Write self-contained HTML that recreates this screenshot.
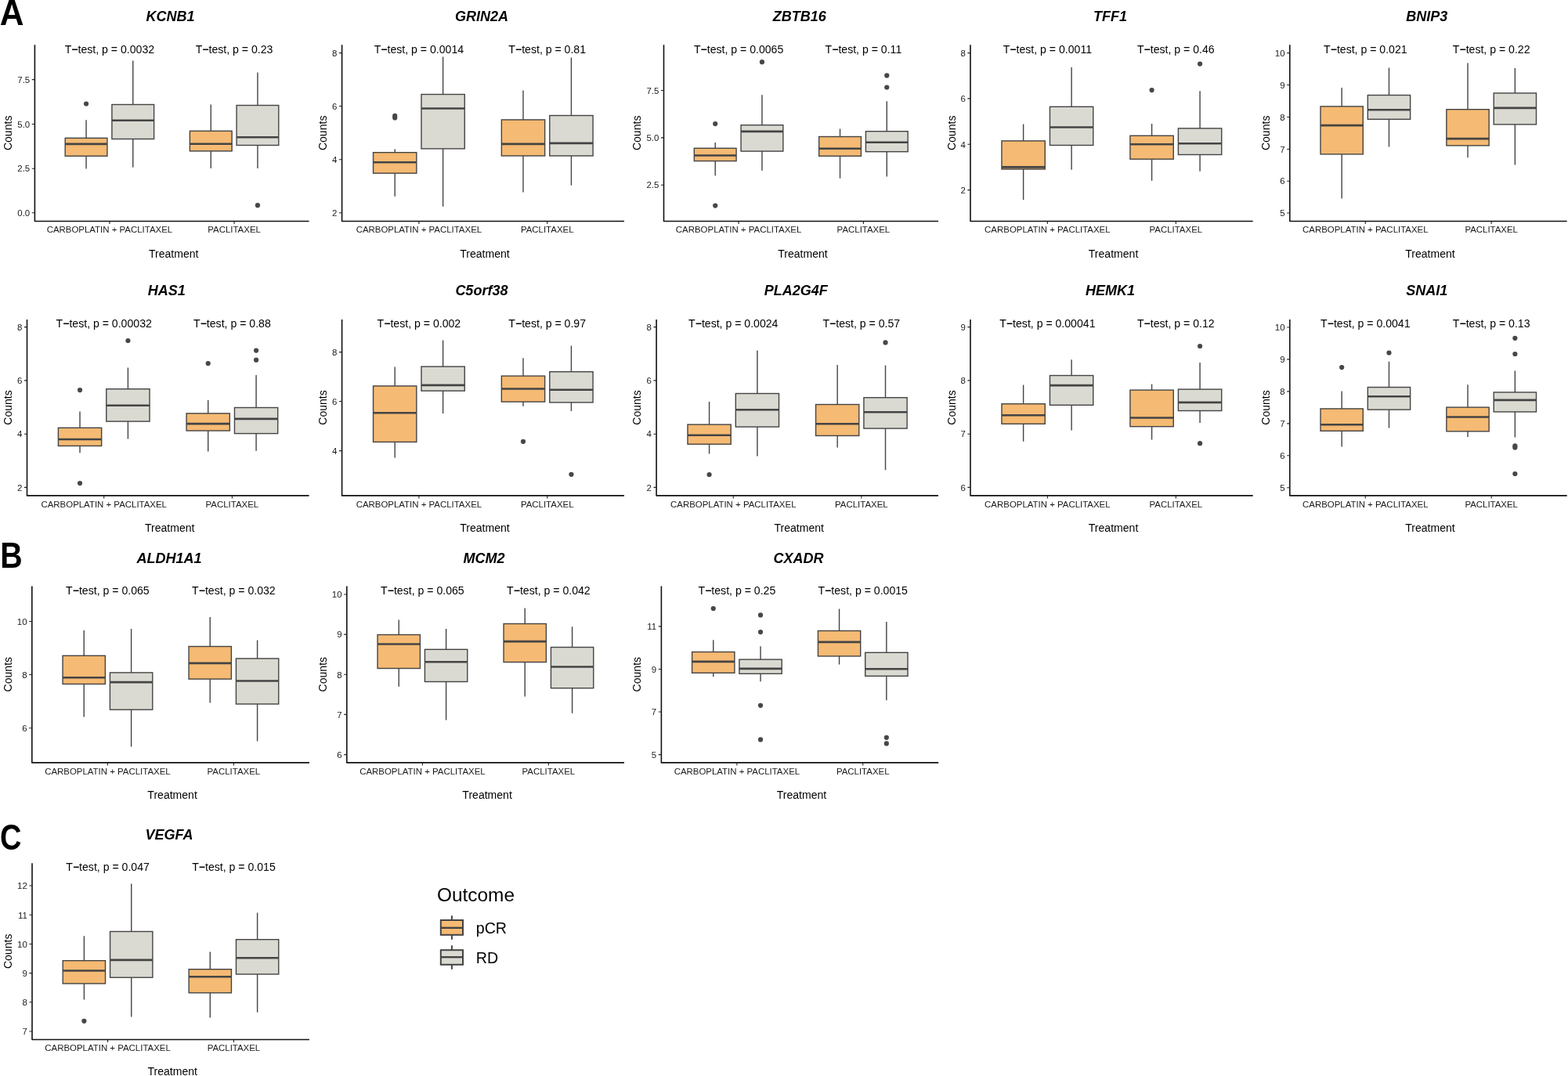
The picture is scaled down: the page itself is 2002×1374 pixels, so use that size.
<!DOCTYPE html>
<html><head><meta charset="utf-8"><title>Boxplots</title>
<style>
html,body{margin:0;padding:0;background:#fff;}
body{width:2002px;height:1374px;overflow:hidden;}
svg{display:block;}
text{font-family:"Liberation Sans",Arial,Helvetica,sans-serif;fill:#000;}
.ti{font-size:18.0px;font-weight:bold;font-style:italic;text-anchor:middle;}
.pv{font-size:14.1px;text-anchor:middle;}
.yt{font-size:11.45px;text-anchor:end;fill:#1a1a1a;}
.xt{font-size:11.45px;text-anchor:middle;fill:#1a1a1a;}
.at{font-size:14.05px;text-anchor:middle;}
.lt{font-size:24.4px;}
.ll{font-size:19.6px;}
.lb{font-size:45.8px;font-weight:bold;}
.mi{font-weight:bold;}
.ax{fill:none;stroke:#111;stroke-width:1.6;stroke-linecap:butt;stroke-linejoin:round;}
.tk{fill:none;stroke:#222;stroke-width:1.1;}
.wk{fill:none;stroke:#444444;stroke-width:1.4;}
.bx{stroke:#444444;stroke-width:1.4;}
.md{fill:none;stroke:#444444;stroke-width:2.6;}
.pt{fill:#474747;}
.lk{stroke:#444444;stroke-width:2;fill:none;}
.lkr{stroke:#444444;stroke-width:2;}
.lm{stroke:#444444;stroke-width:2.4;fill:none;}
</style></head>
<body>
<svg width="2002" height="1374" viewBox="0 0 2002 1374">
<rect width="2002" height="1374" fill="#fff"/>
<text class="lb" transform="translate(-0.3 31.7) scale(0.93 1)">A</text>
<text class="lb" transform="translate(0.3 725) scale(0.86 1)">B</text>
<text class="lb" transform="translate(0 1085) scale(0.83 1)">C</text>
<text class="ti" x="217.6" y="26.9">KCNB1</text>
<path class="wk" d="M110.06 153.3V176.3M110.06 199.3V215.4"/>
<rect class="bx" x="83.2" y="176.3" width="53.72" height="23" fill="#f5ba73"/>
<path class="md" d="M83.2 183.9H136.92"/>
<circle class="pt" cx="110.06" cy="132.5" r="3.1"/>
<path class="wk" d="M169.76 77.6V133.5M169.76 177.5V213.8"/>
<rect class="bx" x="142.89" y="133.5" width="53.72" height="44" fill="#dadad2"/>
<path class="md" d="M142.89 153.7H196.62"/>
<path class="wk" d="M269.24 133.5V167.3M269.24 192.9V215"/>
<rect class="bx" x="242.38" y="167.3" width="53.72" height="25.6" fill="#f5ba73"/>
<path class="md" d="M242.38 183.7H296.11"/>
<path class="wk" d="M328.94 92.6V134.5M328.94 185.5V215"/>
<rect class="bx" x="302.08" y="134.5" width="53.72" height="51" fill="#dadad2"/>
<path class="md" d="M302.08 175.3H355.8"/>
<circle class="pt" cx="328.94" cy="262.2" r="3.1"/>
<text class="pv" x="139.91" y="67.8">T<tspan class="mi">&#8722;</tspan>test, p = 0.0032</text>
<text class="pv" x="299.09" y="67.8">T<tspan class="mi">&#8722;</tspan>test, p = 0.23</text>
<path class="ax" d="M44.4 57.2V282.5H394.6"/>
<text class="yt" x="38.2" y="105.8">7.5</text>
<text class="yt" x="38.2" y="162.7">5.0</text>
<text class="yt" x="38.2" y="219.4">2.5</text>
<text class="yt" x="38.2" y="276">0.0</text>
<path class="tk" d="M40.8 101.6H44.4M40.8 158.5H44.4M40.8 215.2H44.4M40.8 271.8H44.4M139.91 282.5V286.1M299.09 282.5V286.1"/>
<text class="xt" x="139.91" y="297.1">CARBOPLATIN + PACLITAXEL</text>
<text class="xt" x="299.09" y="297.1">PACLITAXEL</text>
<text class="at" x="221.7" y="329">Treatment</text>
<text class="at" transform="translate(15.3 169.85) rotate(-90)">Counts</text>
<text class="ti" x="614.9" y="26.9">GRIN2A</text>
<path class="wk" d="M504.18 190.5V194.7M504.18 221.2V250.8"/>
<rect class="bx" x="476.53" y="194.7" width="55.29" height="26.5" fill="#f5ba73"/>
<path class="md" d="M476.53 207.2H531.82"/>
<circle class="pt" cx="504.18" cy="147.9" r="3.1"/>
<circle class="pt" cx="504.18" cy="150.5" r="3.1"/>
<path class="wk" d="M565.61 72.4V120.5M565.61 189.9V263.8"/>
<rect class="bx" x="537.96" y="120.5" width="55.29" height="69.4" fill="#dadad2"/>
<path class="md" d="M537.96 138.5H593.25"/>
<path class="wk" d="M667.99 115.5V152.9M667.99 199V245.4"/>
<rect class="bx" x="640.35" y="152.9" width="55.29" height="46.1" fill="#f5ba73"/>
<path class="md" d="M640.35 183.9H695.64"/>
<path class="wk" d="M729.43 73.6V147.5M729.43 199V236.8"/>
<rect class="bx" x="701.78" y="147.5" width="55.29" height="51.5" fill="#dadad2"/>
<path class="md" d="M701.78 182.9H757.07"/>
<text class="pv" x="534.89" y="67.8">T<tspan class="mi">&#8722;</tspan>test, p = 0.0014</text>
<text class="pv" x="698.71" y="67.8">T<tspan class="mi">&#8722;</tspan>test, p = 0.81</text>
<path class="ax" d="M436.6 57.2V282.5H797"/>
<text class="yt" x="430.4" y="71.8">8</text>
<text class="yt" x="430.4" y="139.7">6</text>
<text class="yt" x="430.4" y="208">4</text>
<text class="yt" x="430.4" y="276">2</text>
<path class="tk" d="M433 67.6H436.6M433 135.5H436.6M433 203.8H436.6M433 271.8H436.6M534.89 282.5V286.1M698.71 282.5V286.1"/>
<text class="xt" x="534.89" y="297.1">CARBOPLATIN + PACLITAXEL</text>
<text class="xt" x="698.71" y="297.1">PACLITAXEL</text>
<text class="at" x="619" y="329">Treatment</text>
<text class="at" transform="translate(416.8 169.85) rotate(-90)">Counts</text>
<text class="ti" x="1020.85" y="26.9">ZBTB16</text>
<path class="wk" d="M913.22 181.9V189.3M913.22 205.6V224.2"/>
<rect class="bx" x="886.33" y="189.3" width="53.77" height="16.3" fill="#f5ba73"/>
<path class="md" d="M886.33 198.5H940.1"/>
<circle class="pt" cx="913.22" cy="158.1" r="3.1"/>
<circle class="pt" cx="913.22" cy="262.6" r="3.1"/>
<path class="wk" d="M972.96 121.3V159.7M972.96 193.1V217.8"/>
<rect class="bx" x="946.08" y="159.7" width="53.77" height="33.4" fill="#dadad2"/>
<path class="md" d="M946.08 167.9H999.85"/>
<circle class="pt" cx="972.96" cy="79.2" r="3.1"/>
<path class="wk" d="M1072.54 164.5V174.5M1072.54 199.3V227.8"/>
<rect class="bx" x="1045.65" y="174.5" width="53.77" height="24.8" fill="#f5ba73"/>
<path class="md" d="M1045.65 189.7H1099.42"/>
<path class="wk" d="M1132.28 129.3V167.7M1132.28 193.7V225.4"/>
<rect class="bx" x="1105.4" y="167.7" width="53.77" height="26" fill="#dadad2"/>
<path class="md" d="M1105.4 181.7H1159.17"/>
<circle class="pt" cx="1132.28" cy="96.4" r="3.1"/>
<circle class="pt" cx="1132.28" cy="111.5" r="3.1"/>
<text class="pv" x="943.09" y="67.8">T<tspan class="mi">&#8722;</tspan>test, p = 0.0065</text>
<text class="pv" x="1102.41" y="67.8">T<tspan class="mi">&#8722;</tspan>test, p = 0.11</text>
<path class="ax" d="M847.5 57.2V282.5H1198"/>
<text class="yt" x="841.3" y="119.7">7.5</text>
<text class="yt" x="841.3" y="180.1">5.0</text>
<text class="yt" x="841.3" y="240.4">2.5</text>
<path class="tk" d="M843.9 115.5H847.5M843.9 175.9H847.5M843.9 236.2H847.5M943.09 282.5V286.1M1102.41 282.5V286.1"/>
<text class="xt" x="943.09" y="297.1">CARBOPLATIN + PACLITAXEL</text>
<text class="xt" x="1102.41" y="297.1">PACLITAXEL</text>
<text class="at" x="1024.95" y="329">Treatment</text>
<text class="at" transform="translate(818.3 169.85) rotate(-90)">Counts</text>
<text class="ti" x="1417.45" y="26.9">TFF1</text>
<path class="wk" d="M1306.63 158.5V179.9M1306.63 216V255.2"/>
<rect class="bx" x="1278.96" y="179.9" width="55.33" height="36.1" fill="#f5ba73"/>
<path class="md" d="M1278.96 213.4H1334.3"/>
<path class="wk" d="M1368.11 86V136.3M1368.11 185.5V216.8"/>
<rect class="bx" x="1340.45" y="136.3" width="55.33" height="49.2" fill="#dadad2"/>
<path class="md" d="M1340.45 162.5H1395.78"/>
<path class="wk" d="M1470.59 157.9V173.3M1470.59 203.2V230.8"/>
<rect class="bx" x="1442.92" y="173.3" width="55.33" height="29.9" fill="#f5ba73"/>
<path class="md" d="M1442.92 184.3H1498.25"/>
<circle class="pt" cx="1470.59" cy="115.1" r="3.1"/>
<path class="wk" d="M1532.07 116.3V163.9M1532.07 197.5V218.8"/>
<rect class="bx" x="1504.4" y="163.9" width="55.33" height="33.6" fill="#dadad2"/>
<path class="md" d="M1504.4 183.3H1559.74"/>
<circle class="pt" cx="1532.07" cy="81.6" r="3.1"/>
<text class="pv" x="1337.37" y="67.8">T<tspan class="mi">&#8722;</tspan>test, p = 0.0011</text>
<text class="pv" x="1501.33" y="67.8">T<tspan class="mi">&#8722;</tspan>test, p = 0.46</text>
<path class="ax" d="M1239 57.2V282.5H1599.7"/>
<text class="yt" x="1232.8" y="71.8">8</text>
<text class="yt" x="1232.8" y="130.1">6</text>
<text class="yt" x="1232.8" y="188.5">4</text>
<text class="yt" x="1232.8" y="246.8">2</text>
<path class="tk" d="M1235.4 67.6H1239M1235.4 125.9H1239M1235.4 184.3H1239M1235.4 242.6H1239M1337.37 282.5V286.1M1501.33 282.5V286.1"/>
<text class="xt" x="1337.37" y="297.1">CARBOPLATIN + PACLITAXEL</text>
<text class="xt" x="1501.33" y="297.1">PACLITAXEL</text>
<text class="at" x="1421.55" y="329">Treatment</text>
<text class="at" transform="translate(1219.8 169.85) rotate(-90)">Counts</text>
<text class="ti" x="1821.85" y="26.9">BNIP3</text>
<path class="wk" d="M1713.16 112.1V135.9M1713.16 196.9V253.4"/>
<rect class="bx" x="1686.01" y="135.9" width="54.29" height="61" fill="#f5ba73"/>
<path class="md" d="M1686.01 160.1H1740.3"/>
<path class="wk" d="M1773.48 86.6V121.5M1773.48 152.3V187.5"/>
<rect class="bx" x="1746.33" y="121.5" width="54.29" height="30.8" fill="#dadad2"/>
<path class="md" d="M1746.33 140.3H1800.63"/>
<path class="wk" d="M1874.02 80.4V139.7M1874.02 185.9V201.2"/>
<rect class="bx" x="1846.87" y="139.7" width="54.29" height="46.2" fill="#f5ba73"/>
<path class="md" d="M1846.87 177.1H1901.17"/>
<path class="wk" d="M1934.34 87V118.9M1934.34 158.9V210.6"/>
<rect class="bx" x="1907.2" y="118.9" width="54.29" height="40" fill="#dadad2"/>
<path class="md" d="M1907.2 137.9H1961.49"/>
<text class="pv" x="1743.32" y="67.8">T<tspan class="mi">&#8722;</tspan>test, p = 0.021</text>
<text class="pv" x="1904.18" y="67.8">T<tspan class="mi">&#8722;</tspan>test, p = 0.22</text>
<path class="ax" d="M1646.8 57.2V282.5H2000.7"/>
<text class="yt" x="1640.6" y="71.8">10</text>
<text class="yt" x="1640.6" y="112.7">9</text>
<text class="yt" x="1640.6" y="153.7">8</text>
<text class="yt" x="1640.6" y="194.7">7</text>
<text class="yt" x="1640.6" y="235.4">6</text>
<text class="yt" x="1640.6" y="276.2">5</text>
<path class="tk" d="M1643.2 67.6H1646.8M1643.2 108.5H1646.8M1643.2 149.5H1646.8M1643.2 190.5H1646.8M1643.2 231.2H1646.8M1643.2 272H1646.8M1743.32 282.5V286.1M1904.18 282.5V286.1"/>
<text class="xt" x="1743.32" y="297.1">CARBOPLATIN + PACLITAXEL</text>
<text class="xt" x="1904.18" y="297.1">PACLITAXEL</text>
<text class="at" x="1825.95" y="329">Treatment</text>
<text class="at" transform="translate(1621.3 169.85) rotate(-90)">Counts</text>
<text class="ti" x="212.65" y="376.9">HAS1</text>
<path class="wk" d="M102.02 525.5V546.3M102.02 569.4V578.2"/>
<rect class="bx" x="74.4" y="546.3" width="55.24" height="23.1" fill="#f5ba73"/>
<path class="md" d="M74.4 561H129.64"/>
<circle class="pt" cx="102.02" cy="498.1" r="3.1"/>
<circle class="pt" cx="102.02" cy="617" r="3.1"/>
<path class="wk" d="M163.4 469.5V496.7M163.4 538.1V560.4"/>
<rect class="bx" x="135.78" y="496.7" width="55.24" height="41.4" fill="#dadad2"/>
<path class="md" d="M135.78 517.7H191.02"/>
<circle class="pt" cx="163.4" cy="435" r="3.1"/>
<path class="wk" d="M265.7 510.9V527.9M265.7 550V576.4"/>
<rect class="bx" x="238.08" y="527.9" width="55.24" height="22.1" fill="#f5ba73"/>
<path class="md" d="M238.08 541.1H293.32"/>
<circle class="pt" cx="265.7" cy="464.1" r="3.1"/>
<path class="wk" d="M327.08 478.9V520.5M327.08 553.6V575.8"/>
<rect class="bx" x="299.46" y="520.5" width="55.24" height="33.1" fill="#dadad2"/>
<path class="md" d="M299.46 534.9H354.7"/>
<circle class="pt" cx="327.08" cy="447.6" r="3.1"/>
<circle class="pt" cx="327.08" cy="459.7" r="3.1"/>
<text class="pv" x="132.71" y="417.8">T<tspan class="mi">&#8722;</tspan>test, p = 0.00032</text>
<text class="pv" x="296.39" y="417.8">T<tspan class="mi">&#8722;</tspan>test, p = 0.88</text>
<path class="ax" d="M34.5 408.1V632.9H394.6"/>
<text class="yt" x="28.3" y="421.8">8</text>
<text class="yt" x="28.3" y="490.1">6</text>
<text class="yt" x="28.3" y="558.4">4</text>
<text class="yt" x="28.3" y="626.6">2</text>
<path class="tk" d="M30.9 417.6H34.5M30.9 485.9H34.5M30.9 554.2H34.5M30.9 622.4H34.5M132.71 632.9V636.5M296.39 632.9V636.5"/>
<text class="xt" x="132.71" y="647.7">CARBOPLATIN + PACLITAXEL</text>
<text class="xt" x="296.39" y="647.7">PACLITAXEL</text>
<text class="at" x="216.75" y="678.9">Treatment</text>
<text class="at" transform="translate(15.3 520.5) rotate(-90)">Counts</text>
<text class="ti" x="614.9" y="376.9">C5orf38</text>
<path class="wk" d="M504.18 468.5V492.9M504.18 564.4V584.4"/>
<rect class="bx" x="476.53" y="492.9" width="55.29" height="71.5" fill="#f5ba73"/>
<path class="md" d="M476.53 527.3H531.82"/>
<path class="wk" d="M565.61 434.6V468.1M565.61 499.1V528.1"/>
<rect class="bx" x="537.96" y="468.1" width="55.29" height="31" fill="#dadad2"/>
<path class="md" d="M537.96 491.9H593.25"/>
<path class="wk" d="M667.99 457.3V480.1M667.99 513.1V518.7"/>
<rect class="bx" x="640.35" y="480.1" width="55.29" height="33" fill="#f5ba73"/>
<path class="md" d="M640.35 496.5H695.64"/>
<circle class="pt" cx="667.99" cy="563.8" r="3.1"/>
<path class="wk" d="M729.43 441.4V474.7M729.43 513.9V524.9"/>
<rect class="bx" x="701.78" y="474.7" width="55.29" height="39.2" fill="#dadad2"/>
<path class="md" d="M701.78 497.7H757.07"/>
<circle class="pt" cx="729.43" cy="605.8" r="3.1"/>
<text class="pv" x="534.89" y="417.8">T<tspan class="mi">&#8722;</tspan>test, p = 0.002</text>
<text class="pv" x="698.71" y="417.8">T<tspan class="mi">&#8722;</tspan>test, p = 0.97</text>
<path class="ax" d="M436.6 408.1V632.9H797"/>
<text class="yt" x="430.4" y="453.8">8</text>
<text class="yt" x="430.4" y="516.7">6</text>
<text class="yt" x="430.4" y="579.8">4</text>
<path class="tk" d="M433 449.6H436.6M433 512.5H436.6M433 575.6H436.6M534.89 632.9V636.5M698.71 632.9V636.5"/>
<text class="xt" x="534.89" y="647.7">CARBOPLATIN + PACLITAXEL</text>
<text class="xt" x="698.71" y="647.7">PACLITAXEL</text>
<text class="at" x="619" y="678.9">Treatment</text>
<text class="at" transform="translate(416.8 520.5) rotate(-90)">Counts</text>
<text class="ti" x="1016.15" y="376.9">PLA2G4F</text>
<path class="wk" d="M905.58 513.1V542.1M905.58 567.2V579.4"/>
<rect class="bx" x="877.98" y="542.1" width="55.21" height="25.1" fill="#f5ba73"/>
<path class="md" d="M877.98 555.8H933.19"/>
<circle class="pt" cx="905.58" cy="606" r="3.1"/>
<path class="wk" d="M966.93 447.4V502.5M966.93 545.1V582.4"/>
<rect class="bx" x="939.32" y="502.5" width="55.21" height="42.6" fill="#dadad2"/>
<path class="md" d="M939.32 523.3H994.53"/>
<path class="wk" d="M1069.17 465.9V516.5M1069.17 556.4V571.4"/>
<rect class="bx" x="1041.57" y="516.5" width="55.21" height="39.9" fill="#f5ba73"/>
<path class="md" d="M1041.57 541.3H1096.78"/>
<path class="wk" d="M1130.52 466.5V507.7M1130.52 547.1V600.2"/>
<rect class="bx" x="1102.91" y="507.7" width="55.21" height="39.4" fill="#dadad2"/>
<path class="md" d="M1102.91 526.3H1158.12"/>
<circle class="pt" cx="1130.52" cy="437.4" r="3.1"/>
<text class="pv" x="936.25" y="417.8">T<tspan class="mi">&#8722;</tspan>test, p = 0.0024</text>
<text class="pv" x="1099.85" y="417.8">T<tspan class="mi">&#8722;</tspan>test, p = 0.57</text>
<path class="ax" d="M838.1 408.1V632.9H1198"/>
<text class="yt" x="831.9" y="421.8">8</text>
<text class="yt" x="831.9" y="490.1">6</text>
<text class="yt" x="831.9" y="558.4">4</text>
<text class="yt" x="831.9" y="626.6">2</text>
<path class="tk" d="M834.5 417.6H838.1M834.5 485.9H838.1M834.5 554.2H838.1M834.5 622.4H838.1M936.25 632.9V636.5M1099.85 632.9V636.5"/>
<text class="xt" x="936.25" y="647.7">CARBOPLATIN + PACLITAXEL</text>
<text class="xt" x="1099.85" y="647.7">PACLITAXEL</text>
<text class="at" x="1020.25" y="678.9">Treatment</text>
<text class="at" transform="translate(818.3 520.5) rotate(-90)">Counts</text>
<text class="ti" x="1417.45" y="376.9">HEMK1</text>
<path class="wk" d="M1306.63 491.5V515.7M1306.63 541.3V563.8"/>
<rect class="bx" x="1278.96" y="515.7" width="55.33" height="25.6" fill="#f5ba73"/>
<path class="md" d="M1278.96 530.3H1334.3"/>
<path class="wk" d="M1368.11 459.3V479.5M1368.11 517.3V549.5"/>
<rect class="bx" x="1340.45" y="479.5" width="55.33" height="37.8" fill="#dadad2"/>
<path class="md" d="M1340.45 492.1H1395.78"/>
<path class="wk" d="M1470.59 490.5V498.1M1470.59 544.7V561.4"/>
<rect class="bx" x="1442.92" y="498.1" width="55.33" height="46.6" fill="#f5ba73"/>
<path class="md" d="M1442.92 533.5H1498.25"/>
<path class="wk" d="M1532.07 462.9V497.1M1532.07 524.5V539.9"/>
<rect class="bx" x="1504.4" y="497.1" width="55.33" height="27.4" fill="#dadad2"/>
<path class="md" d="M1504.4 513.9H1559.74"/>
<circle class="pt" cx="1532.07" cy="442" r="3.1"/>
<circle class="pt" cx="1532.07" cy="566.2" r="3.1"/>
<text class="pv" x="1337.37" y="417.8">T<tspan class="mi">&#8722;</tspan>test, p = 0.00041</text>
<text class="pv" x="1501.33" y="417.8">T<tspan class="mi">&#8722;</tspan>test, p = 0.12</text>
<path class="ax" d="M1239 408.1V632.9H1599.7"/>
<text class="yt" x="1232.8" y="421.8">9</text>
<text class="yt" x="1232.8" y="490.1">8</text>
<text class="yt" x="1232.8" y="558.4">7</text>
<text class="yt" x="1232.8" y="626.6">6</text>
<path class="tk" d="M1235.4 417.6H1239M1235.4 485.9H1239M1235.4 554.2H1239M1235.4 622.4H1239M1337.37 632.9V636.5M1501.33 632.9V636.5"/>
<text class="xt" x="1337.37" y="647.7">CARBOPLATIN + PACLITAXEL</text>
<text class="xt" x="1501.33" y="647.7">PACLITAXEL</text>
<text class="at" x="1421.55" y="678.9">Treatment</text>
<text class="at" transform="translate(1219.8 520.5) rotate(-90)">Counts</text>
<text class="ti" x="1821.85" y="376.9">SNAI1</text>
<path class="wk" d="M1713.16 499.5V521.9M1713.16 550.3V570.4"/>
<rect class="bx" x="1686.01" y="521.9" width="54.29" height="28.4" fill="#f5ba73"/>
<path class="md" d="M1686.01 542.3H1740.3"/>
<circle class="pt" cx="1713.16" cy="469.1" r="3.1"/>
<path class="wk" d="M1773.48 461.7V494.5M1773.48 523.1V546.5"/>
<rect class="bx" x="1746.33" y="494.5" width="54.29" height="28.6" fill="#dadad2"/>
<path class="md" d="M1746.33 506.3H1800.63"/>
<circle class="pt" cx="1773.48" cy="450.5" r="3.1"/>
<path class="wk" d="M1874.02 491.3V520.1M1874.02 550.8V558"/>
<rect class="bx" x="1846.87" y="520.1" width="54.29" height="30.7" fill="#f5ba73"/>
<path class="md" d="M1846.87 532.5H1901.17"/>
<path class="wk" d="M1934.34 473.5V500.9M1934.34 525.9V558.4"/>
<rect class="bx" x="1907.2" y="500.9" width="54.29" height="25" fill="#dadad2"/>
<path class="md" d="M1907.2 510.9H1961.49"/>
<circle class="pt" cx="1934.34" cy="431.8" r="3.1"/>
<circle class="pt" cx="1934.34" cy="452" r="3.1"/>
<circle class="pt" cx="1934.34" cy="569.4" r="3.1"/>
<circle class="pt" cx="1934.34" cy="571.4" r="3.1"/>
<circle class="pt" cx="1934.34" cy="605" r="3.1"/>
<text class="pv" x="1743.32" y="417.8">T<tspan class="mi">&#8722;</tspan>test, p = 0.0041</text>
<text class="pv" x="1904.18" y="417.8">T<tspan class="mi">&#8722;</tspan>test, p = 0.13</text>
<path class="ax" d="M1646.8 408.1V632.9H2000.7"/>
<text class="yt" x="1640.6" y="422.2">10</text>
<text class="yt" x="1640.6" y="463.1">9</text>
<text class="yt" x="1640.6" y="504.1">8</text>
<text class="yt" x="1640.6" y="545.1">7</text>
<text class="yt" x="1640.6" y="586">6</text>
<text class="yt" x="1640.6" y="627">5</text>
<path class="tk" d="M1643.2 418H1646.8M1643.2 458.9H1646.8M1643.2 499.9H1646.8M1643.2 540.9H1646.8M1643.2 581.8H1646.8M1643.2 622.8H1646.8M1743.32 632.9V636.5M1904.18 632.9V636.5"/>
<text class="xt" x="1743.32" y="647.7">CARBOPLATIN + PACLITAXEL</text>
<text class="xt" x="1904.18" y="647.7">PACLITAXEL</text>
<text class="at" x="1825.95" y="678.9">Treatment</text>
<text class="at" transform="translate(1621.3 520.5) rotate(-90)">Counts</text>
<text class="ti" x="216" y="719">ALDH1A1</text>
<path class="wk" d="M107.21 804.9V837.3M107.21 873.5V915.4"/>
<rect class="bx" x="80.04" y="837.3" width="54.34" height="36.2" fill="#f5ba73"/>
<path class="md" d="M80.04 865.3H134.38"/>
<path class="wk" d="M167.59 802.9V858.9M167.59 906.2V953.4"/>
<rect class="bx" x="140.42" y="858.9" width="54.34" height="47.3" fill="#dadad2"/>
<path class="md" d="M140.42 871.1H194.76"/>
<path class="wk" d="M268.21 788V825.5M268.21 867.1V897.4"/>
<rect class="bx" x="241.04" y="825.5" width="54.34" height="41.6" fill="#f5ba73"/>
<path class="md" d="M241.04 846.9H295.38"/>
<path class="wk" d="M328.59 817.5V840.9M328.59 899V946.4"/>
<rect class="bx" x="301.42" y="840.9" width="54.34" height="58.1" fill="#dadad2"/>
<path class="md" d="M301.42 869.5H355.76"/>
<text class="pv" x="137.4" y="758.8">T<tspan class="mi">&#8722;</tspan>test, p = 0.065</text>
<text class="pv" x="298.4" y="758.8">T<tspan class="mi">&#8722;</tspan>test, p = 0.032</text>
<path class="ax" d="M40.8 748.5V973.9H395"/>
<text class="yt" x="34.6" y="797.7">10</text>
<text class="yt" x="34.6" y="865.7">8</text>
<text class="yt" x="34.6" y="934">6</text>
<path class="tk" d="M37.2 793.5H40.8M37.2 861.5H40.8M37.2 929.8H40.8M137.4 973.9V977.5M298.4 973.9V977.5"/>
<text class="xt" x="137.4" y="989">CARBOPLATIN + PACLITAXEL</text>
<text class="xt" x="298.4" y="989">PACLITAXEL</text>
<text class="at" x="220.1" y="1020.2">Treatment</text>
<text class="at" transform="translate(15.3 861.2) rotate(-90)">Counts</text>
<text class="ti" x="618" y="719">MCM2</text>
<path class="wk" d="M509.21 791.5V810.5M509.21 853.5V876.7"/>
<rect class="bx" x="482.04" y="810.5" width="54.34" height="43" fill="#f5ba73"/>
<path class="md" d="M482.04 822.5H536.38"/>
<path class="wk" d="M569.59 803.1V829.3M569.59 870.5V919.4"/>
<rect class="bx" x="542.42" y="829.3" width="54.34" height="41.2" fill="#dadad2"/>
<path class="md" d="M542.42 845.3H596.76"/>
<path class="wk" d="M670.21 776.4V796.5M670.21 845.5V889.4"/>
<rect class="bx" x="643.04" y="796.5" width="54.34" height="49" fill="#f5ba73"/>
<path class="md" d="M643.04 819.1H697.38"/>
<path class="wk" d="M730.59 800.3V826.5M730.59 878.7V910.8"/>
<rect class="bx" x="703.42" y="826.5" width="54.34" height="52.2" fill="#dadad2"/>
<path class="md" d="M703.42 851.5H757.76"/>
<text class="pv" x="539.4" y="758.8">T<tspan class="mi">&#8722;</tspan>test, p = 0.065</text>
<text class="pv" x="700.4" y="758.8">T<tspan class="mi">&#8722;</tspan>test, p = 0.042</text>
<path class="ax" d="M442.8 748.5V973.9H797"/>
<text class="yt" x="436.6" y="763.2">10</text>
<text class="yt" x="436.6" y="814.3">9</text>
<text class="yt" x="436.6" y="865.5">8</text>
<text class="yt" x="436.6" y="916.6">7</text>
<text class="yt" x="436.6" y="967.8">6</text>
<path class="tk" d="M439.2 759H442.8M439.2 810.1H442.8M439.2 861.3H442.8M439.2 912.4H442.8M439.2 963.6H442.8M539.4 973.9V977.5M700.4 973.9V977.5"/>
<text class="xt" x="539.4" y="989">CARBOPLATIN + PACLITAXEL</text>
<text class="xt" x="700.4" y="989">PACLITAXEL</text>
<text class="at" x="622.1" y="1020.2">Treatment</text>
<text class="at" transform="translate(416.8 861.2) rotate(-90)">Counts</text>
<text class="ti" x="1019.4" y="719">CXADR</text>
<path class="wk" d="M910.74 817.3V832.5M910.74 859.3V863.9"/>
<rect class="bx" x="883.6" y="832.5" width="54.28" height="26.8" fill="#f5ba73"/>
<path class="md" d="M883.6 844.9H937.88"/>
<circle class="pt" cx="910.74" cy="777" r="3.1"/>
<path class="wk" d="M971.04 825.3V842.1M971.04 860.3V870.3"/>
<rect class="bx" x="943.91" y="842.1" width="54.28" height="18.2" fill="#dadad2"/>
<path class="md" d="M943.91 853.9H998.18"/>
<circle class="pt" cx="971.04" cy="785.4" r="3.1"/>
<circle class="pt" cx="971.04" cy="807.1" r="3.1"/>
<circle class="pt" cx="971.04" cy="900.8" r="3.1"/>
<circle class="pt" cx="971.04" cy="944.4" r="3.1"/>
<path class="wk" d="M1071.56 777.6V805.5M1071.56 837.9V848.5"/>
<rect class="bx" x="1044.42" y="805.5" width="54.28" height="32.4" fill="#f5ba73"/>
<path class="md" d="M1044.42 819.9H1098.69"/>
<path class="wk" d="M1131.86 794.1V833.3M1131.86 863.3V894.2"/>
<rect class="bx" x="1104.72" y="833.3" width="54.28" height="30" fill="#dadad2"/>
<path class="md" d="M1104.72 854.3H1159"/>
<circle class="pt" cx="1131.86" cy="941.8" r="3.1"/>
<circle class="pt" cx="1131.86" cy="949.4" r="3.1"/>
<text class="pv" x="940.89" y="758.8">T<tspan class="mi">&#8722;</tspan>test, p = 0.25</text>
<text class="pv" x="1101.71" y="758.8">T<tspan class="mi">&#8722;</tspan>test, p = 0.0015</text>
<path class="ax" d="M844.4 748.5V973.9H1198.2"/>
<text class="yt" x="838.2" y="804.1">11</text>
<text class="yt" x="838.2" y="858.7">9</text>
<text class="yt" x="838.2" y="913.2">7</text>
<text class="yt" x="838.2" y="967.8">5</text>
<path class="tk" d="M840.8 799.9H844.4M840.8 854.5H844.4M840.8 909H844.4M840.8 963.6H844.4M940.89 973.9V977.5M1101.71 973.9V977.5"/>
<text class="xt" x="940.89" y="989">CARBOPLATIN + PACLITAXEL</text>
<text class="xt" x="1101.71" y="989">PACLITAXEL</text>
<text class="at" x="1023.5" y="1020.2">Treatment</text>
<text class="at" transform="translate(818.3 861.2) rotate(-90)">Counts</text>
<text class="ti" x="216.1" y="1072.1">VEGFA</text>
<path class="wk" d="M107.38 1195.3V1226.7M107.38 1256V1276.4"/>
<rect class="bx" x="80.22" y="1226.7" width="54.31" height="29.3" fill="#f5ba73"/>
<path class="md" d="M80.22 1239.5H134.53"/>
<circle class="pt" cx="107.38" cy="1303.8" r="3.1"/>
<path class="wk" d="M167.72 1128.4V1189.5M167.72 1248.2V1298.4"/>
<rect class="bx" x="140.56" y="1189.5" width="54.31" height="58.7" fill="#dadad2"/>
<path class="md" d="M140.56 1225.9H194.87"/>
<path class="wk" d="M268.28 1215.5V1237.7M268.28 1267.8V1299.4"/>
<rect class="bx" x="241.13" y="1237.7" width="54.31" height="30.1" fill="#f5ba73"/>
<path class="md" d="M241.13 1247.2H295.44"/>
<path class="wk" d="M328.62 1165.5V1199.7M328.62 1244V1292.8"/>
<rect class="bx" x="301.47" y="1199.7" width="54.31" height="44.3" fill="#dadad2"/>
<path class="md" d="M301.47 1223.3H355.78"/>
<text class="pv" x="137.55" y="1112">T<tspan class="mi">&#8722;</tspan>test, p = 0.047</text>
<text class="pv" x="298.45" y="1112">T<tspan class="mi">&#8722;</tspan>test, p = 0.015</text>
<path class="ax" d="M41 1102.2V1327.5H395"/>
<text class="yt" x="34.8" y="1135.2">12</text>
<text class="yt" x="34.8" y="1172.5">11</text>
<text class="yt" x="34.8" y="1209.7">10</text>
<text class="yt" x="34.8" y="1246.8">9</text>
<text class="yt" x="34.8" y="1284">8</text>
<text class="yt" x="34.8" y="1321.2">7</text>
<path class="tk" d="M37.4 1131H41M37.4 1168.3H41M37.4 1205.5H41M37.4 1242.6H41M37.4 1279.8H41M37.4 1317H41M137.55 1327.5V1331.1M298.45 1327.5V1331.1"/>
<text class="xt" x="137.55" y="1341.9">CARBOPLATIN + PACLITAXEL</text>
<text class="xt" x="298.45" y="1341.9">PACLITAXEL</text>
<text class="at" x="220.2" y="1372.8">Treatment</text>
<text class="at" transform="translate(15.3 1214.85) rotate(-90)">Counts</text>
<text class="lt" x="558" y="1150.7">Outcome</text>
<path class="lk" d="M576.9 1169.2V1175M576.9 1193.8V1199.8"/>
<rect class="lkr" x="562.8" y="1175" width="28.2" height="18.8" fill="#f5ba73"/>
<path class="lm" d="M562.8 1184.8H591"/>
<path class="lk" d="M576.9 1207.2V1213.2M576.9 1231.8V1237.8"/>
<rect class="lkr" x="562.8" y="1213.2" width="28.2" height="18.6" fill="#dadad2"/>
<path class="lm" d="M562.8 1222.2H591"/>
<text class="ll" x="607.8" y="1192.4">pCR</text>
<text class="ll" x="607.8" y="1230">RD</text>
</svg>
</body></html>
